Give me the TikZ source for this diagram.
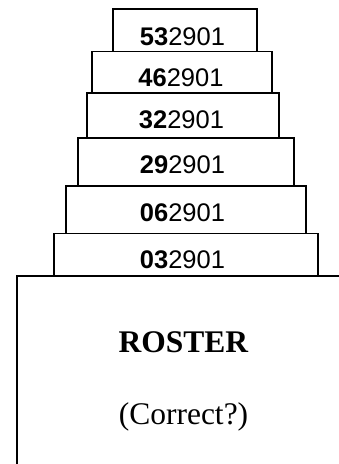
\documentclass[tikz,border=0pt]{standalone}
\usepackage{fontspec}
\setmainfont{Liberation Serif}
\newfontfamily\arialfont{Liberation Sans}
\usepackage{tikz}
\usetikzlibrary{positioning}

\begin{document}
\begin{tikzpicture}[
      % one unit = one pixel of the reference, y pointing down
      x=1pt,
      y=-1pt,
      line join=miter
  ]

  \tikzset{
      slab/.style={draw=black, line width=1.6pt, inner sep=0pt, anchor=north west},
      num/.style={anchor=base, inner sep=0pt, font=\arialfont\fontsize{25.5}{30}\selectfont},
      rosterfont/.style={anchor=base, inner sep=0pt, font=\fontsize{31.5}{36}\selectfont}
  }

  \clip (0,0) rectangle (339,464);

  % 1. Stack of slabs, top to bottom
  \node[slab, minimum width=144, minimum height=42.5] (s53) at (112, 8)    {};
  \node[slab, minimum width=180, minimum height=41.5] (s46) at (91, 50.5)  {};
  \node[slab, minimum width=192, minimum height=45]   (s32) at (86, 92)    {};
  \node[slab, minimum width=216, minimum height=48]   (s29) at (77, 137)   {};
  \node[slab, minimum width=240, minimum height=47.5] (s06) at (65, 185)   {};
  \node[slab, minimum width=264, minimum height=42.5] (s03) at (53, 232.5) {};

  % 2. Numbers on the slabs
  \node[num] (n53) at (182.5, 45.5)  {\textbf{53}2901};
  \node[num] (n46) at (181, 86.5)    {\textbf{46}2901};
  \node[num] (n32) at (181.5, 128.3) {\textbf{32}2901};
  \node[num] (n29) at (182.5, 173.3) {\textbf{29}2901};
  \node[num] (n06) at (182.5, 221.7) {\textbf{06}2901};
  \node[num] (n03) at (182.5, 268.3) {\textbf{03}2901};

  % 3. Roster box (runs off the picture)
  \node[slab, minimum width=360, minimum height=220] (roster) at (16, 275) {};
  \node[rosterfont] (title) at (183.5, 352) {\textbf{ROSTER}};
  \node[rosterfont] (query) at (183.5, 424) {(Correct?)};

\end{tikzpicture}
\end{document}
